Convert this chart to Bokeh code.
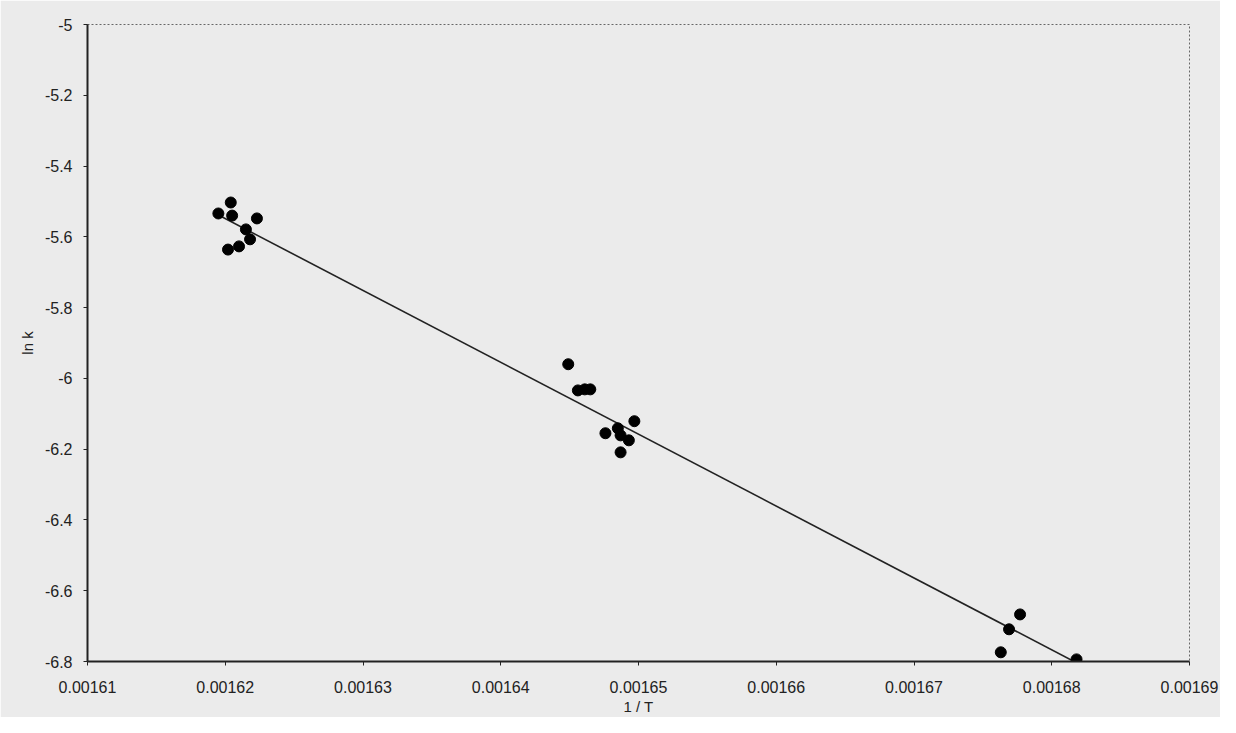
import numpy as np
from bokeh.plotting import figure
from bokeh.models import FixedTicker, Range1d
from bokeh.embed import file_html
from bokeh.resources import INLINE

# 1/T values and ln k values
inv_T = [0.0016195, 0.0016204, 0.0016205, 0.0016223, 0.0016215, 0.0016218, 0.0016202, 0.0016210,
         0.0016449, 0.0016456, 0.0016461, 0.0016465, 0.0016476, 0.0016485, 0.0016487, 0.0016493,
         0.0016497, 0.0016487,
         0.0016777, 0.0016769, 0.0016763, 0.0016818]
ln_k = [-5.534, -5.503, -5.540, -5.548, -5.579, -5.607, -5.636, -5.627,
        -5.960, -6.034, -6.031, -6.031, -6.155, -6.141, -6.161, -6.175,
        -6.121, -6.209,
        -6.667, -6.709, -6.774, -6.794]

x_ticks = [0.00161, 0.00162, 0.00163, 0.00164, 0.00165, 0.00166, 0.00167, 0.00168, 0.00169]
x_tick_labels = ["0.00161", "0.00162", "0.00163", "0.00164", "0.00165", "0.00166", "0.00167", "0.00168", "0.00169"]
y_ticks = [-5.0, -5.2, -5.4, -5.6, -5.8, -6.0, -6.2, -6.4, -6.6, -6.8]
y_tick_labels = ["-5", "-5.2", "-5.4", "-5.6", "-5.8", "-6", "-6.2", "-6.4", "-6.6", "-6.8"]

BG = "#ebebeb"
FONT = "Liberation Sans"

p = figure(width=1220, height=717, output_backend="svg", toolbar_location=None,
           x_range=Range1d(0.00161, 0.00169), y_range=Range1d(-6.8, -5.0),
           min_border_left=87, min_border_right=31, min_border_top=24, min_border_bottom=56)
p.background_fill_color = BG
p.border_fill_color = BG
p.grid.visible = False
p.outline_line_color = "#666666"
p.outline_line_dash = "2 2"
p.outline_line_width = 1

# regression line through the data
slope, intercept = np.polyfit(inv_T, ln_k, 1)
xl = np.array([min(inv_T), max(inv_T)])
p.line(xl, slope * xl + intercept, line_color="#222222", line_width=1.6)

p.scatter(inv_T, ln_k, size=11, fill_color="black", line_color="black")

p.xaxis.ticker = FixedTicker(ticks=x_ticks)
p.xaxis.major_label_overrides = {t: s for t, s in zip(x_ticks, x_tick_labels)}
p.yaxis.ticker = FixedTicker(ticks=y_ticks)
p.yaxis.major_label_overrides = {t: s for t, s in zip(y_ticks, y_tick_labels)}

for ax in (p.xaxis, p.yaxis):
    ax.minor_tick_line_color = None
    ax.major_tick_in = 0
    ax.major_tick_out = 4
    ax.axis_line_color = "#222222"
    ax.axis_line_width = 2
    ax.major_tick_line_color = "#222222"
    ax.major_label_text_font = FONT
    ax.major_label_text_font_size = "16px"
    ax.major_label_text_color = "#222222"
    ax.axis_label_text_font = FONT
    ax.axis_label_text_font_size = "15px"
    ax.axis_label_text_font_style = "normal"
    ax.axis_label_text_color = "#222222"

p.xaxis.axis_label = "1 / T"
p.yaxis.axis_label = "ln k"
p.xaxis.major_label_standoff = 15
p.xaxis.axis_label_standoff = 2
p.yaxis.major_label_standoff = 11
p.yaxis.axis_label_standoff = 6

open("out.html", "w").write(file_html(p, INLINE))
